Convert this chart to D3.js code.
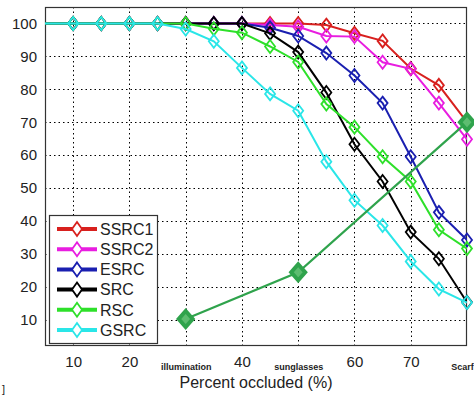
<!DOCTYPE html>
<html>
<head>
<meta charset="utf-8">
<script src="https://cdn.jsdelivr.net/npm/d3@7"></script>
<style>
  body { margin: 0; background: #fff; }
  text { font-family: "Liberation Sans", Arial, sans-serif; }
</style>
</head>
<body>
<div id="chart"></div>
<script>
// occlusion levels (x), data starts off-axis at 0 like the original
const xs = [0, 5, 10, 15, 20, 25, 30, 35, 40, 45, 50, 55, 60, 65, 70, 75, 80];
const ssrc1 = [100, 100, 100, 100, 100, 100, 100, 100, 100, 100, 100, 99.5, 97, 94.7, 86.3, 81.2, 70];
const ssrc2 = [100, 100, 100, 100, 100, 100, 100, 100, 100, 99.5, 99, 96.2, 96, 88.2, 86.2, 75.8, 64.8];
const esrc = [100, 100, 100, 100, 100, 100, 100, 100, 100, 98.7, 96.2, 91, 84.2, 75.8, 59.5, 42.6, 34.2];
const src = [100, 100, 100, 100, 100, 100, 100, 100, 100, 97, 91.3, 79, 63.3, 52, 36.6, 28.5, 15.3];
const rsc = [100, 100, 100, 100, 100, 100, 100, 98.4, 97.2, 93, 88.3, 75.5, 68.5, 59.5, 52, 37.3, 31.6];
const gsrc = [100, 100, 100, 100, 100, 100, 98.3, 94.6, 86.5, 78.6, 73.5, 58, 46.3, 38.6, 27.7, 19.3, 15.2];

// real-disguise points: illumination, sunglasses, scarf
const realX = [30, 50, 80];
const realY = [10.2, 24.4, 70];

const xTicks = [10, 20, 30, 40, 50, 60, 70, 80];
const xTickLabels = ["10", "20", "illumination", "40", "sunglasses", "60", "70", "Scarf"];
const yTicks = [10, 20, 30, 40, 50, 60, 70, 80, 90, 100];

const seriesNames = ["SSRC1", "SSRC2", "ESRC", "SRC", "RSC", "GSRC"];
const seriesVals = [ssrc1, ssrc2, esrc, src, rsc, gsrc];
const seriesColors = ["#d8201e", "#e81de0", "#1a1fb0", "#000000", "#2ee02a", "#2ae6e8"];

const W = 474, H = 395;
const margin = {top: 7, right: 7, bottom: 49, left: 45};

const svg = d3.select("#chart").append("svg")
    .attr("width", W)
    .attr("height", H);

const x = d3.scaleLinear().domain([5, 80]).range([margin.left, W - margin.right]);
const y = d3.scaleLinear().domain([2, 105]).range([H - margin.bottom, margin.top]);

svg.append("clipPath").attr("id", "clip")
    .append("rect")
    .attr("x", margin.left).attr("y", margin.top)
    .attr("width", x.range()[1] - margin.left)
    .attr("height", y.range()[0] - margin.top);

// matlab-like diamond marker
const diamond = (w, h) => `M0,${-h}L${w},0L0,${h}L${-w},0Z`;

// dotted grid
const grid = svg.append("g").attr("stroke", "#000").attr("stroke-width", 1).attr("stroke-dasharray", "1.5,3");
grid.selectAll(".gx").data(xTicks.filter(d => d < 80)).join("line")
    .attr("x1", d => Math.round(x(d)) + 0.5).attr("x2", d => Math.round(x(d)) + 0.5)
    .attr("y1", y.range()[1]).attr("y2", y.range()[0]);
grid.selectAll(".gy").data(yTicks).join("line")
    .attr("y1", d => Math.round(y(d)) + 0.5).attr("y2", d => Math.round(y(d)) + 0.5)
    .attr("x1", x.range()[0]).attr("x2", x.range()[1]);

// axes
const xAxis = d3.axisBottom(x).tickValues(xTicks).tickSize(0).tickPadding(10)
    .tickFormat((d, i) => xTickLabels[i]);
const yAxis = d3.axisLeft(y).tickValues(yTicks).tickSize(0).tickPadding(8);

const isNum = i => /^\d+$/.test(xTickLabels[i]);
const xAxisG = svg.append("g")
    .attr("transform", `translate(0,${y.range()[0]})`)
    .call(xAxis);
xAxisG.select(".domain").remove();
xAxisG.selectAll("text")
    .attr("fill", "#222")
    .style("font-size", (d, i) => isNum(i) ? "15px" : "9px")
    .style("font-weight", (d, i) => isNum(i) ? "normal" : "bold")
    .attr("dy", (d, i) => isNum(i) ? "0.71em" : "1.6em")
    .attr("dx", (d, i) => xTickLabels[i] === "Scarf" ? -5 : 0);

const yAxisG = svg.append("g")
    .attr("transform", `translate(${margin.left},0)`)
    .call(yAxis);
yAxisG.select(".domain").remove();
yAxisG.selectAll("text").attr("fill", "#222").style("font-size", "15px");

// frame
svg.append("rect")
    .attr("x", margin.left + 0.5).attr("y", margin.top + 0.5)
    .attr("width", x.range()[1] - margin.left - 1)
    .attr("height", y.range()[0] - margin.top - 1)
    .attr("fill", "none").attr("stroke", "#333").attr("stroke-width", 1.2);

// x axis title
svg.append("text")
    .attr("x", (x.range()[0] + x.range()[1]) / 2)
    .attr("y", 388)
    .attr("text-anchor", "middle")
    .attr("fill", "#222")
    .style("font-size", "16px")
    .text("Percent occluded (%)");

// stray bracket at bottom-left of the original image
svg.append("text").attr("x", 2).attr("y", 393).attr("fill", "#222").style("font-size", "11px").text("]");

const line = d3.line().x(d => x(d[0])).y(d => y(d[1]));

seriesVals.forEach((vals, k) => {
    const pts = xs.map((v, i) => [v, vals[i]]);
    svg.append("path")
        .datum(pts)
        .attr("clip-path", "url(#clip)")
        .attr("fill", "none")
        .attr("stroke", seriesColors[k])
        .attr("stroke-width", 2)
        .attr("d", line);
    svg.append("g").selectAll("path")
        .data(pts.filter(p => p[0] >= 10))
        .join("path")
        .attr("transform", d => `translate(${x(d[0])},${y(d[1])})`)
        .attr("d", diamond(5, 6.5))
        .attr("fill", "none")
        .attr("stroke", seriesColors[k])
        .attr("stroke-width", 1.8);
});

// real disguise line
const realPts = realX.map((v, i) => [v, realY[i]]);
svg.append("path")
    .datum(realPts)
    .attr("fill", "none")
    .attr("stroke", "#2fa34c")
    .attr("stroke-width", 2.2)
    .attr("d", line);
svg.append("g").selectAll("path")
    .data(realPts)
    .join("path")
    .attr("transform", d => `translate(${x(d[0])},${y(d[1])})`)
    .attr("d", diamond(7, 8))
    .attr("fill", "#5dbd70")
    .attr("stroke", "#2fa34c")
    .attr("stroke-width", 4);

// legend
const lg = svg.append("g").attr("transform", "translate(49,215)");
lg.append("rect")
    .attr("x", 0.5).attr("y", 0.5).attr("width", 108).attr("height", 128)
    .attr("fill", "#fff").attr("stroke", "#333").attr("stroke-width", 1.2);
seriesNames.forEach((name, k) => {
    const yy = 14 + k * 20.2;
    lg.append("line").attr("x1", 8).attr("x2", 48).attr("y1", yy).attr("y2", yy)
        .attr("stroke", seriesColors[k]).attr("stroke-width", 4);
    lg.append("path")
        .attr("transform", `translate(28,${yy})`)
        .attr("d", diamond(5, 7))
        .attr("fill", "#fff")
        .attr("stroke", seriesColors[k]).attr("stroke-width", 1.8);
    lg.append("text").attr("x", 51).attr("y", yy).attr("dy", "0.36em")
        .attr("fill", "#222").style("font-size", "16px").text(name);
});
</script>
</body>
</html>
